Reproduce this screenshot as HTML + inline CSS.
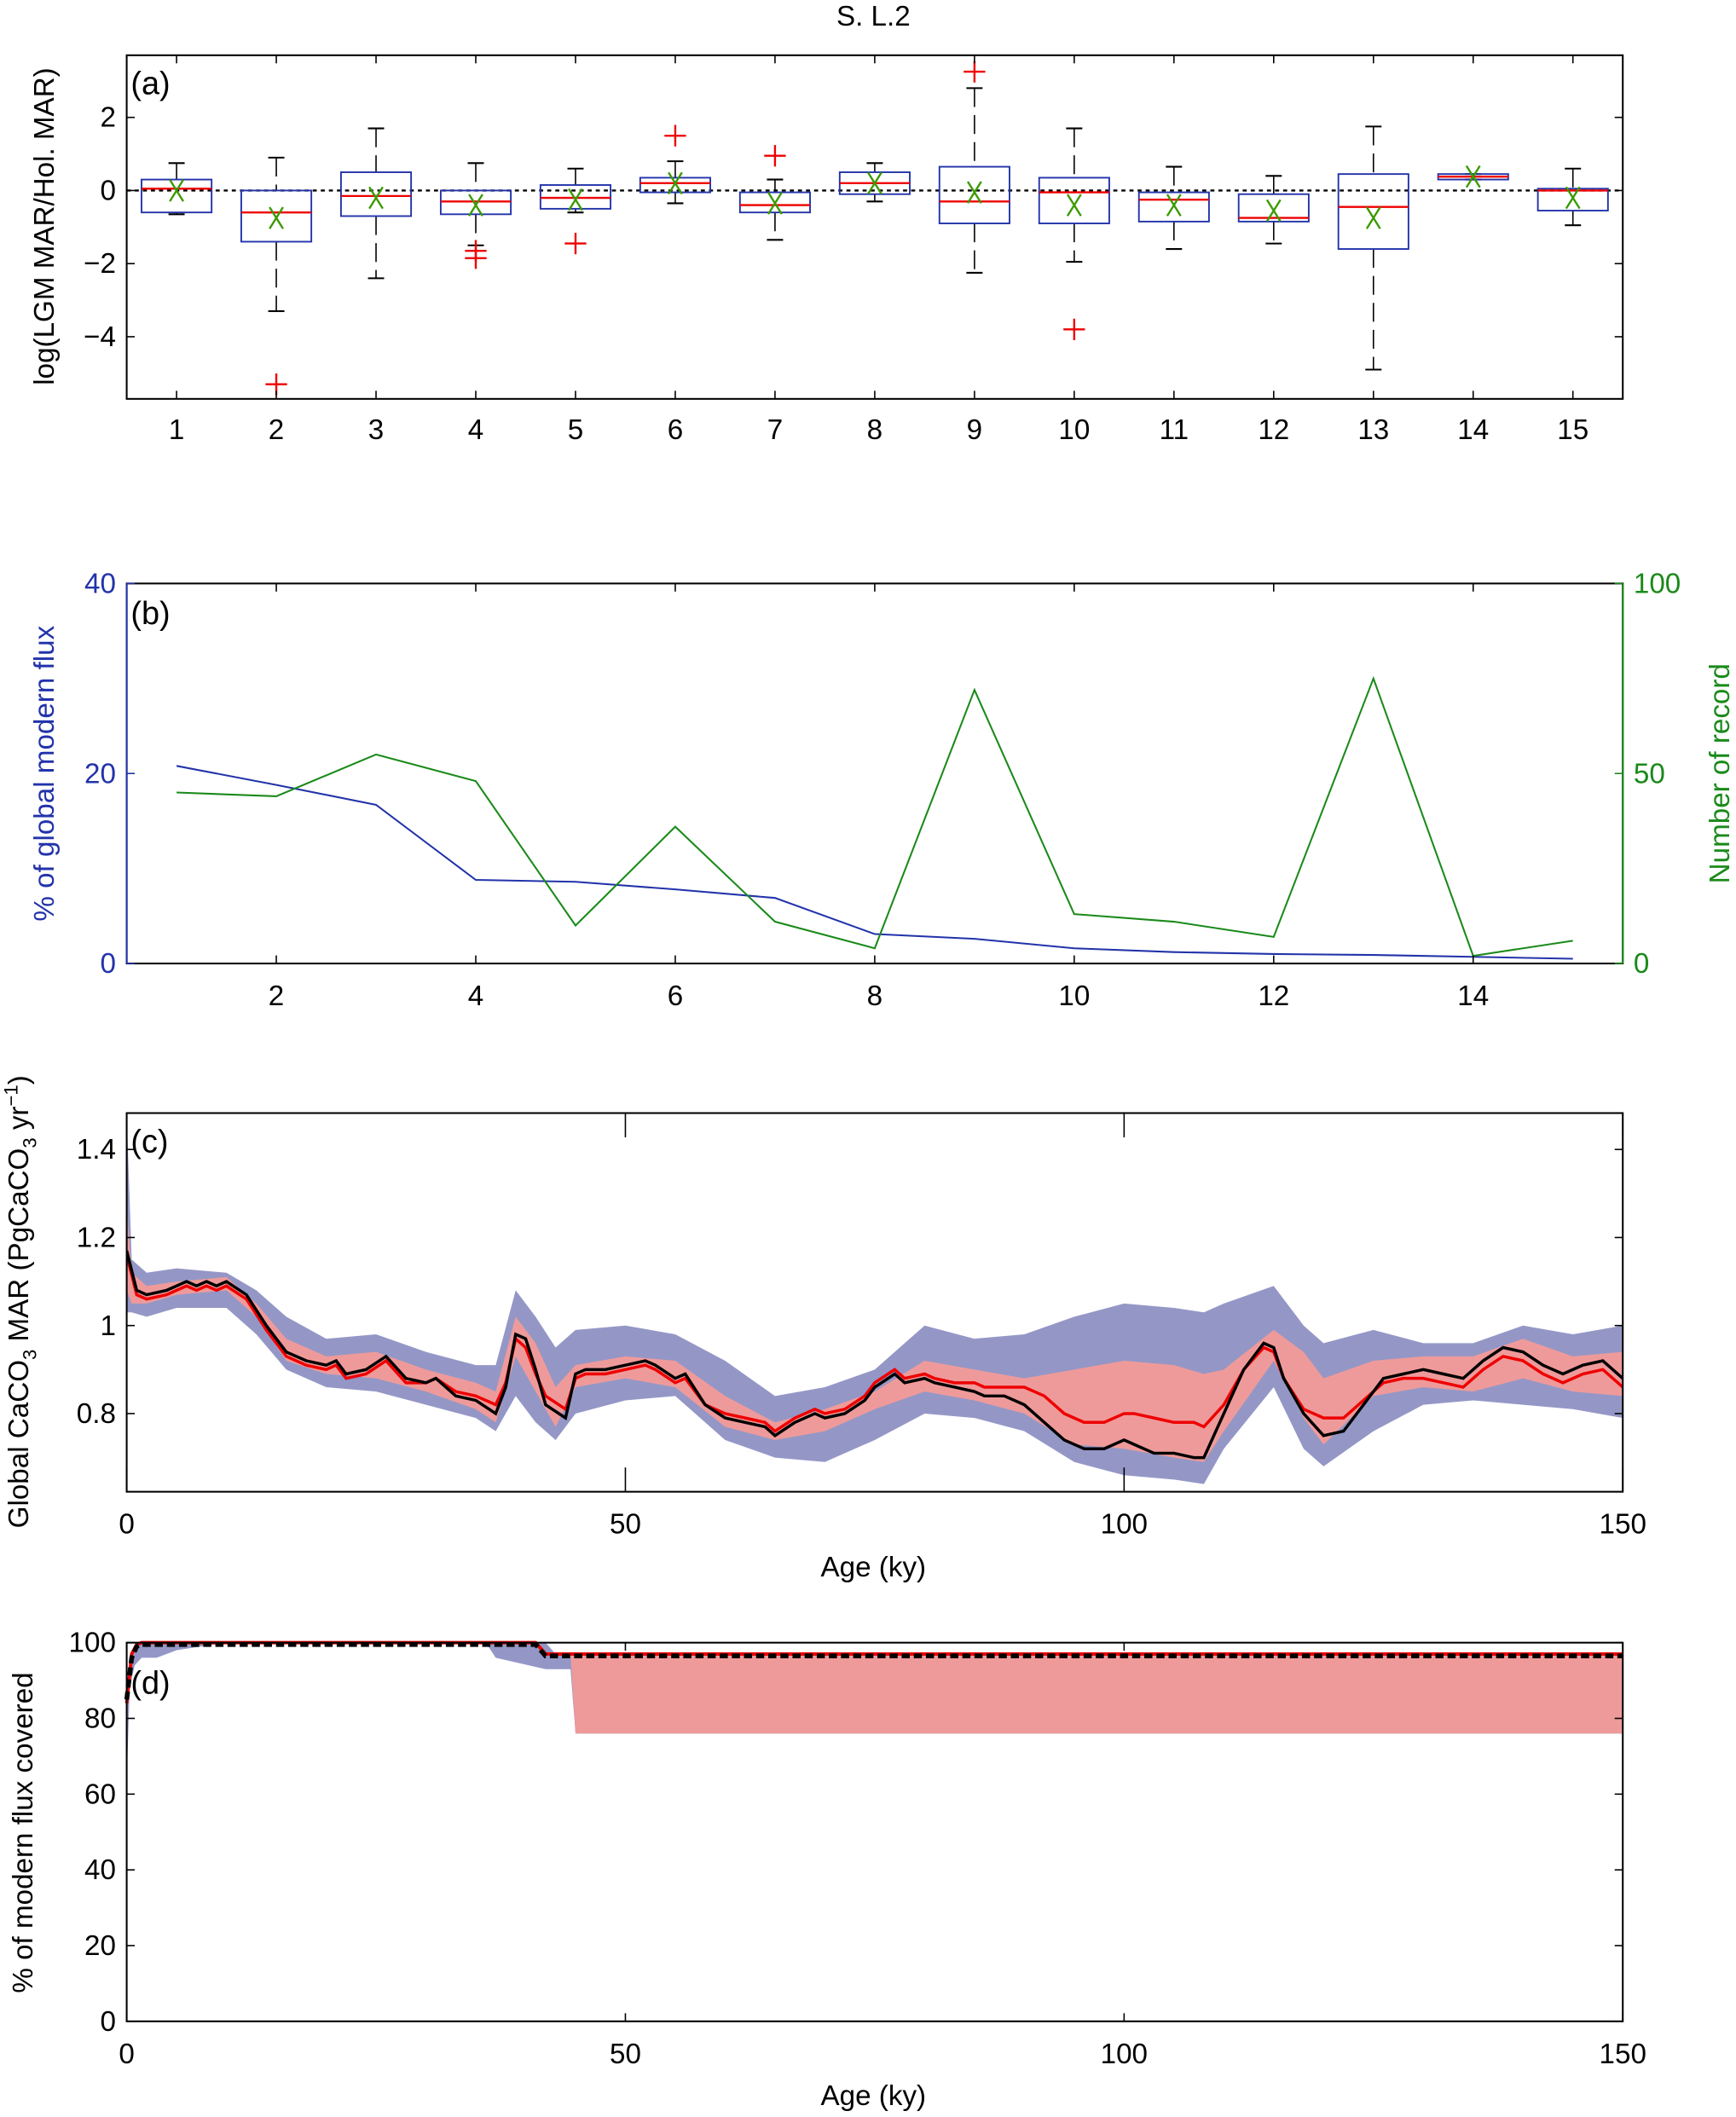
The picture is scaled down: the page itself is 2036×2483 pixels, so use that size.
<!DOCTYPE html>
<html><head><meta charset="utf-8"><style>
html,body{margin:0;padding:0;background:#fff;}
svg{display:block;font-family:"Liberation Sans",sans-serif;}
</style></head><body>
<svg id="fig" width="2036" height="2483" viewBox="0 0 1288 1571" preserveAspectRatio="none" xmlns="http://www.w3.org/2000/svg">
<text x="648" y="19" font-size="21" text-anchor="middle">S. L.2</text>
</svg>
<script>
// ---- Panel (a) data ----
const catsA = [1,2,3,4,5,6,7,8,9,10,11,12,13,14,15];
const medA = [0.05,-0.6,-0.15,-0.3,-0.2,0.2,-0.4,0.2,-0.3,-0.05,-0.25,-0.75,-0.45,0.38,0];
const q1A = [-0.6,-1.4,-0.7,-0.65,-0.5,-0.05,-0.6,-0.1,-0.9,-0.9,-0.85,-0.85,-1.6,0.3,-0.55];
const q3A = [0.3,0,0.5,0,0.15,0.35,-0.05,0.5,0.65,0.35,-0.05,-0.1,0.45,0.45,0.05];
const whLoA = [-0.65,-3.3,-2.4,-1.5,-0.6,-0.35,-1.35,-0.3,-2.25,-1.95,-1.6,-1.45,-4.9,0.3,-0.95];
const whHiA = [0.75,0.9,1.7,0.75,0.6,0.8,0.3,0.75,2.8,1.7,0.65,0.4,1.75,0.45,0.6];
const meanA = [0,-0.75,-0.2,-0.4,-0.25,0.2,-0.35,0.2,-0.05,-0.4,-0.4,-0.55,-0.75,0.38,-0.2];
const outCatA = [2,4,4,5,6,7,9,10];
const outValA = [-5.3,-1.65,-1.85,-1.45,1.5,0.95,3.25,-3.8];
const yTicksA = [-4,-2,0,2];
// ---- Panel (b) data ----
const catsB = [1,2,3,4,5,6,7,8,9,10,11,12,13,14,15];
const fluxB = [20.8,18.8,16.7,8.8,8.6,7.8,6.9,3.1,2.6,1.6,1.2,1.0,0.9,0.7,0.5];
const recB = [45,44,55,48,10,36,11,4,72,13,11,7,75,2,6];
const xTicksB = [2,4,6,8,10,12,14];
const yTicksBL = [0,20,40];
const yTicksBR = [0,50,100];
// ---- Panel (c) data ----
const agesC = [0,1,2,4,5,6,7,8,9,10,12,14,16,18,20,21,22,24,26,28,30,31,33,35,37,38,39,40,41,42,44,45,46,48,50,52,53,55,56,58,60,62,64,65,67,69,70,72,74,75,77,78,80,81,83,85,86,88,90,92,94,96,98,100,101,103,105,107,108,110,112,114,115,116,118,120,122,124,126,128,130,132,134,136,138,140,142,144,146,148,150];
const meanC = [1.17,1.08,1.07,1.08,1.09,1.10,1.09,1.10,1.09,1.10,1.07,1.0,0.94,0.92,0.91,0.92,0.89,0.90,0.93,0.88,0.87,0.88,0.84,0.83,0.80,0.86,0.98,0.97,0.90,0.82,0.79,0.89,0.90,0.90,0.91,0.92,0.91,0.88,0.89,0.82,0.79,0.78,0.77,0.75,0.78,0.80,0.79,0.80,0.83,0.86,0.89,0.87,0.88,0.87,0.86,0.85,0.84,0.84,0.82,0.78,0.74,0.72,0.72,0.74,0.73,0.71,0.71,0.70,0.70,0.80,0.90,0.96,0.95,0.88,0.80,0.75,0.76,0.82,0.88,0.89,0.90,0.89,0.88,0.92,0.95,0.94,0.91,0.89,0.91,0.92,0.88];
const medC = [1.16,1.07,1.06,1.07,1.08,1.09,1.08,1.09,1.08,1.09,1.06,0.99,0.93,0.91,0.90,0.91,0.88,0.89,0.92,0.87,0.87,0.88,0.85,0.84,0.82,0.87,0.97,0.95,0.89,0.84,0.81,0.88,0.89,0.89,0.90,0.91,0.90,0.87,0.88,0.82,0.80,0.79,0.78,0.76,0.79,0.81,0.80,0.81,0.84,0.87,0.90,0.88,0.89,0.88,0.87,0.87,0.86,0.86,0.86,0.84,0.80,0.78,0.78,0.80,0.80,0.79,0.78,0.78,0.77,0.82,0.90,0.95,0.94,0.88,0.81,0.79,0.79,0.83,0.87,0.88,0.88,0.87,0.86,0.90,0.93,0.92,0.89,0.87,0.89,0.90,0.86];
const bandAges = [0,0.5,2,5,10,13,16,20,25,30,35,37,39,41,43,45,50,55,60,65,70,75,80,85,90,95,100,105,108,110,115,118,120,125,130,135,140,145,150];
const blueHi = [1.48,1.15,1.12,1.13,1.12,1.08,1.02,0.97,0.98,0.94,0.91,0.91,1.08,1.02,0.95,0.99,1.0,0.98,0.92,0.84,0.86,0.90,1.0,0.97,0.98,1.02,1.05,1.04,1.03,1.05,1.09,1.0,0.96,0.99,0.96,0.96,1.0,0.98,1.0];
const blueLo = [1.03,1.03,1.02,1.04,1.04,0.98,0.90,0.86,0.85,0.82,0.79,0.76,0.84,0.78,0.74,0.80,0.83,0.84,0.74,0.70,0.69,0.74,0.80,0.79,0.76,0.69,0.66,0.65,0.64,0.72,0.86,0.72,0.68,0.76,0.82,0.83,0.82,0.81,0.79];
const pinkHi = [1.27,1.12,1.09,1.10,1.11,1.05,0.97,0.93,0.94,0.90,0.87,0.85,1.02,0.96,0.86,0.91,0.93,0.92,0.84,0.78,0.81,0.85,0.92,0.90,0.88,0.90,0.92,0.91,0.89,0.90,0.99,0.94,0.88,0.92,0.93,0.93,0.97,0.93,0.94];
const pinkLo = [1.08,1.05,1.05,1.07,1.08,1.02,0.92,0.89,0.88,0.85,0.81,0.78,0.93,0.85,0.77,0.86,0.88,0.86,0.77,0.74,0.76,0.81,0.85,0.83,0.80,0.73,0.72,0.70,0.69,0.76,0.92,0.79,0.73,0.84,0.86,0.85,0.88,0.85,0.84];
const yTicksC = [0.8,1,1.2,1.4];
const xTicksAge = [0,50,100,150];
// ---- Panel (d) data ----
const agesD = [0,0.3,0.8,1.5,3,5,10,36,37,42,43,44.5,45,100,150];
const blueHiD = [82,95,99,100,100,100,100,100,100,100,97,97,97,97,97];
const blueLoD = [63,88,94,96,96,98,100,100,96,93,93,93,76,76,76];
const pinkAgesD = [44.5,45,100,150];
const pinkHiD = [97,97,97,97];
const pinkLoD = [97,76,76,76];
const lineAgesD = [0,0.5,1,1.5,40,41,42,150];
const meanD = [85,96,99,99.5,99.5,99.5,96.5,96.5];
const medD = [84,97,99.5,100,100,100,97,97];
const yTicksD = [0,20,40,60,80,100];

const NS = 'http://www.w3.org/2000/svg';
const svg = document.getElementById('fig');
function mk(tag, at, parent){const e=document.createElementNS(NS,tag);for(const k in at)e.setAttribute(k,at[k]);(parent||svg).appendChild(e);return e;}
function lin(d0,d1,r0,r1){return v=>r0+(v-d0)*(r1-r0)/(d1-d0);}
function txt(x,y,s,size,anchor,fill,parent){const t=mk('text',{x:x,y:y,'font-size':size,'text-anchor':anchor||'middle',fill:fill||'#000'},parent);t.textContent=s;return t;}

// ===== Panel A =====
const gA = mk('g',{});


const xA = lin(0.5,15.5,94,1204), yA = lin(-5.7,3.7,296,41);
mk('line',{x1:94,x2:1204,y1:yA(0),y2:yA(0),stroke:'#000','stroke-width':1.5,'stroke-dasharray':'3,3'},gA);
catsA.forEach((c,i)=>{
  const cx=xA(c), hw=26, g=mk('g',{},gA);
  
  
  mk('line',{x1:cx,x2:cx,y1:yA(whHiA[i]),y2:yA(q3A[i]),stroke:'#000','stroke-width':1,'stroke-dasharray':'14,6'},g);
  mk('line',{x1:cx,x2:cx,y1:yA(q1A[i]),y2:yA(whLoA[i]),stroke:'#000','stroke-width':1,'stroke-dasharray':'14,6'},g);
  mk('line',{x1:cx-6,x2:cx+6,y1:yA(whHiA[i]),y2:yA(whHiA[i]),stroke:'#000','stroke-width':1.3},g);
  mk('line',{x1:cx-6,x2:cx+6,y1:yA(whLoA[i]),y2:yA(whLoA[i]),stroke:'#000','stroke-width':1.3},g);
  mk('rect',{x:cx-hw,y:yA(q3A[i]),width:2*hw,height:Math.max(1,yA(q1A[i])-yA(q3A[i])),fill:'none',stroke:'#2233aa','stroke-width':1.2},g);
  mk('line',{x1:cx-hw,x2:cx+hw,y1:yA(medA[i]),y2:yA(medA[i]),stroke:'#e00','stroke-width':1.5},g);
  const my=yA(meanA[i]);
  mk('path',{d:`M${cx-5} ${my-8}L${cx+5} ${my+8}M${cx+5} ${my-8}L${cx-5} ${my+8}`,stroke:'#3a9a00','stroke-width':1.5,fill:'none'},g);
});
outCatA.forEach((c,i)=>{
  const cx=xA(c), cy=yA(outValA[i]);
  const p=mk('path',{d:`M${cx-8} ${cy}H${cx+8}M${cx} ${cy-8}V${cy+8}`,stroke:'#e00','stroke-width':1.5,fill:'none'},gA);
  
  
});
mk('rect',{x:94,y:41,width:1110,height:255,fill:'none',stroke:'#000','stroke-width':1.3},gA);
catsA.forEach(c=>{const x=xA(c);mk('line',{x1:x,x2:x,y1:296,y2:290,stroke:'#000'},gA);mk('line',{x1:x,x2:x,y1:41,y2:47,stroke:'#000'},gA);txt(x,326,String(c),21,'middle','#000',gA);});
yTicksA.forEach(v=>{const y=yA(v);mk('line',{x1:94,x2:100,y1:y,y2:y,stroke:'#000'},gA);mk('line',{x1:1204,x2:1198,y1:y,y2:y,stroke:'#000'},gA);txt(86,y+7,v<0?'\u2212'+(-v):String(v),21,'end','#000',gA);});
txt(97,70,'(a)',24,'start','#000',gA);
const ylA=txt(0,0,'log(LGM MAR/Hol. MAR)',21,'middle','#000',gA);ylA.setAttribute('transform','translate(40,168) rotate(-90)');


// ===== Panel B =====
const gB = mk('g',{});


const xB=lin(0.5,15.5,94,1204), yBL=lin(0,40,715,433), yBR=lin(0,100,715,433);
const pb1=mk('polyline',{points:catsB.map((c,i)=>xB(c)+','+yBL(fluxB[i])).join(' '),fill:'none',stroke:'#2233aa','stroke-width':1.3},gB);


const pb2=mk('polyline',{points:catsB.map((c,i)=>xB(c)+','+yBR(recB[i])).join(' '),fill:'none',stroke:'#1a8a1a','stroke-width':1.3},gB);


mk('rect',{x:94,y:433,width:1110,height:282,fill:'none',stroke:'#000','stroke-width':1.3},gB);
mk('line',{x1:94,x2:94,y1:433,y2:715,stroke:'#2233aa','stroke-width':1.3},gB);
mk('line',{x1:1204,x2:1204,y1:433,y2:715,stroke:'#1a8a1a','stroke-width':1.3},gB);
xTicksB.forEach(c=>{const x=xB(c);mk('line',{x1:x,x2:x,y1:715,y2:709,stroke:'#000'},gB);mk('line',{x1:x,x2:x,y1:433,y2:439,stroke:'#000'},gB);txt(x,746,String(c),21,'middle','#000',gB);});
yTicksBL.forEach(v=>{const y=yBL(v);mk('line',{x1:94,x2:100,y1:y,y2:y,stroke:'#2233aa'},gB);txt(86,y+7,String(v),21,'end','#2233aa',gB);});
yTicksBR.forEach(v=>{const y=yBR(v);mk('line',{x1:1204,x2:1198,y1:y,y2:y,stroke:'#1a8a1a'},gB);txt(1212,y+7,String(v),21,'start','#1a8a1a',gB);});
txt(97,463,'(b)',24,'start','#000',gB);
const ylB=txt(0,0,'% of global modern flux',21,'middle','#2233aa',gB);ylB.setAttribute('transform','translate(40,574) rotate(-90)');

const yrB=txt(0,0,'Number of record',21,'middle','#1a8a1a',gB);yrB.setAttribute('transform','translate(1283,574) rotate(-90)');


// ===== Panel C =====
const gC = mk('g',{});


mk('clipPath',{id:'clipC'},gC).appendChild(Object.assign(document.createElementNS(NS,'rect')));
document.querySelector('#clipC rect').setAttribute('x',94);document.querySelector('#clipC rect').setAttribute('y',826);document.querySelector('#clipC rect').setAttribute('width',1110);document.querySelector('#clipC rect').setAttribute('height',281);
const xC=lin(0,150,94,1204), yC=lin(0.8,1.4,1049,853);
function band(ages,lo,hi,x,y){const top=ages.map((a,i)=>x(a)+','+y(hi[i]));const bot=ages.map((a,i)=>x(a)+','+y(lo[i])).reverse();return top.concat(bot).join(' ');}
const gCc=mk('g',{'clip-path':'url(#clipC)'},gC);
const bb=mk('polygon',{points:band(bandAges,blueLo,blueHi,xC,yC),fill:'#9497c6'},gCc);


const pbnd=mk('polygon',{points:band(bandAges,pinkLo,pinkHi,xC,yC),fill:'#ef9a9a'},gCc);


const lr=mk('polyline',{points:agesC.map((a,i)=>xC(a)+','+yC(medC[i])).join(' '),fill:'none',stroke:'#e00','stroke-width':2.2},gCc);


const lk=mk('polyline',{points:agesC.map((a,i)=>xC(a)+','+yC(meanC[i])).join(' '),fill:'none',stroke:'#000','stroke-width':2.2},gCc);


mk('rect',{x:94,y:826,width:1110,height:281,fill:'none',stroke:'#000','stroke-width':1.3},gC);
xTicksAge.forEach(v=>{const x=xC(v);mk('line',{x1:x,x2:x,y1:1107,y2:1089,stroke:'#000'},gC);mk('line',{x1:x,x2:x,y1:826,y2:844,stroke:'#000'},gC);txt(x,1138,String(v),21,'middle','#000',gC);});
yTicksC.forEach(v=>{const y=yC(v);mk('line',{x1:94,x2:100,y1:y,y2:y,stroke:'#000'},gC);mk('line',{x1:1204,x2:1198,y1:y,y2:y,stroke:'#000'},gC);txt(86,y+7,String(v),21,'end','#000',gC);});
txt(97,855,'(c)',24,'start','#000',gC);
const xlC=txt(648,1170,'Age (ky)',21,'middle','#000',gC);

const ylC=mk('text',{'font-size':21,'text-anchor':'middle',transform:'translate(21,966) rotate(-90)'},gC);
ylC.innerHTML='Global CaCO<tspan font-size="14" dy="6">3</tspan><tspan dy="-6"> MAR (PgCaCO</tspan><tspan font-size="14" dy="6">3</tspan><tspan dy="-6"> yr</tspan><tspan font-size="14" dy="-8">\u22121</tspan><tspan dy="8">)</tspan>';


// ===== Panel D =====
const gD = mk('g',{});


const xD=lin(0,150,94,1204), yD=lin(0,100,1500,1219);
const db=mk('polygon',{points:band(agesD,blueLoD,blueHiD,xD,yD),fill:'#9497c6'},gD);


const dp=mk('polygon',{points:band(pinkAgesD,pinkLoD,pinkHiD,xD,yD),fill:'#ef9a9a'},gD);


const dr=mk('polyline',{points:lineAgesD.map((a,i)=>xD(a)+','+yD(medD[i])).join(' '),fill:'none',stroke:'#e00','stroke-width':2.5},gD);


const dk=mk('polyline',{points:lineAgesD.map((a,i)=>xD(a)+','+yD(meanD[i])).join(' '),fill:'none',stroke:'#000','stroke-width':3.5,'stroke-dasharray':'6,3'},gD);


mk('rect',{x:94,y:1219,width:1110,height:281,fill:'none',stroke:'#000','stroke-width':1.3},gD);
xTicksAge.forEach(v=>{const x=xD(v);mk('line',{x1:x,x2:x,y1:1500,y2:1494,stroke:'#000'},gD);mk('line',{x1:x,x2:x,y1:1219,y2:1225,stroke:'#000'},gD);txt(x,1531,String(v),21,'middle','#000',gD);});
yTicksD.forEach(v=>{const y=yD(v);mk('line',{x1:94,x2:100,y1:y,y2:y,stroke:'#000'},gD);mk('line',{x1:1204,x2:1198,y1:y,y2:y,stroke:'#000'},gD);txt(86,y+7,String(v),21,'end','#000',gD);});
txt(97,1257,'(d)',24,'start','#000',gD);
const xlD=txt(648,1562,'Age (ky)',21,'middle','#000',gD);

const ylD=txt(0,0,'% of modern flux covered',21,'middle','#000',gD);ylD.setAttribute('transform','translate(24,1360) rotate(-90)');

</script>
</body></html>
